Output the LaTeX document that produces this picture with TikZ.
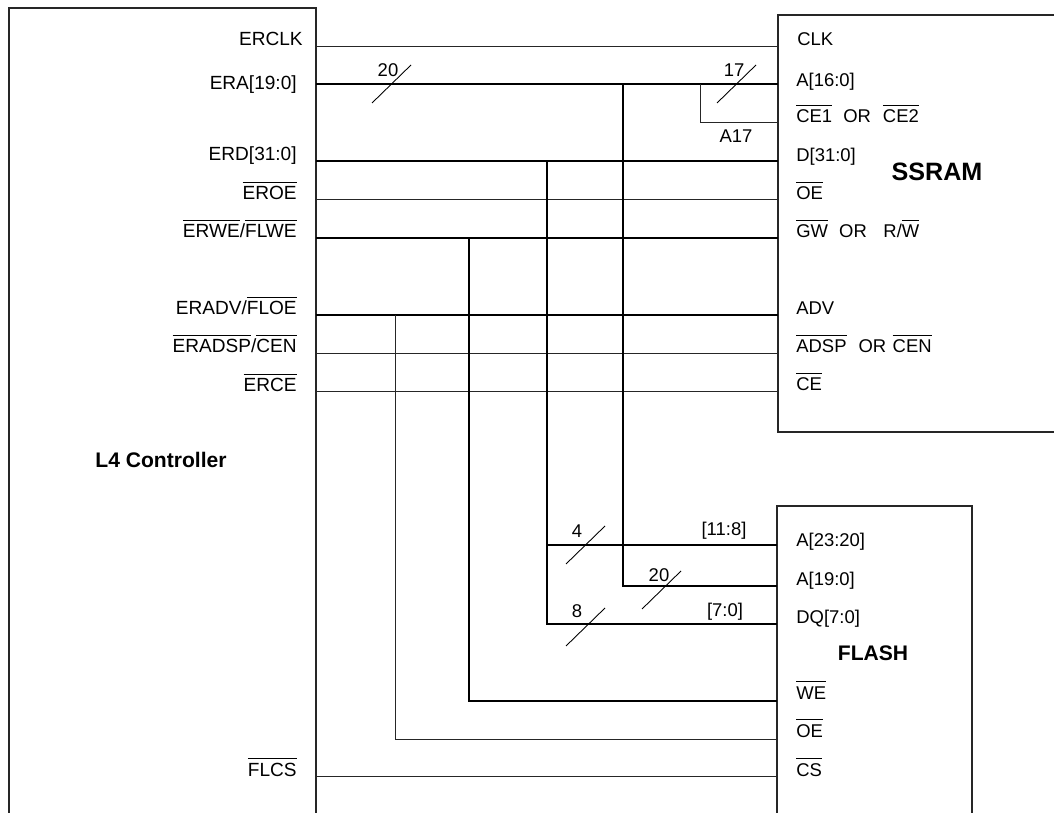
\documentclass[tikz,border=0pt]{standalone}
\usepackage{fontspec}
\setmainfont{Liberation Sans}
\newcommand{\nbar}[1]{$\overline{\hbox{\rule{0pt}{8.5pt}#1}}$}
\tikzset{
  boxline/.style={line width=1.1pt,draw=black!85},
  bus/.style={line width=1.15pt,black},
  sig/.style={line width=0.55pt,black!85},
  tick/.style={line width=0.5pt,black},
  lab/.style={font=\fontsize{10.5}{12}\selectfont,inner sep=0pt},
  leftlab/.style={lab,font=\fontsize{10.85}{12}\selectfont,anchor=base east},
  rightlab/.style={lab,anchor=base west}
}
\begin{document}
\begin{tikzpicture}[x=0.02cm,y=-0.02cm]
  \useasboundingbox (0,0) rectangle (1054,813);

  % L4 controller
  \draw[boxline] (9,813) -- (9,8) -- (316,8) -- (316,813);
  \node[font=\bfseries\fontsize{12}{14}\selectfont,inner sep=0pt] (ctrl) at (161,460) {L4 Controller};

  % SSRAM
  \draw[boxline] (1054,15) -- (778,15) -- (778,432) -- (1054,432);
  \node[font=\bfseries\fontsize{14.3}{16}\selectfont,inner sep=0pt] (ssram) at (937,172) {SSRAM};

  % FLASH
  \draw[boxline] (777,813) -- (777,506) -- (972,506) -- (972,813);
  \node[font=\bfseries\fontsize{12}{14}\selectfont,inner sep=0pt] (flash) at (873,653) {FLASH};

  % controller pins
  \foreach \pin/\y in {erclk/46,era/84,erd/161,eroe/199,erwe/238,eradv/315,eradsp/353,erce/391,flcs/776} {
    \coordinate (\pin) at (316,\y);
  }
  \node[leftlab] (lerclk) at (303,46) {ERCLK};
  \node[leftlab] (lera) at (297,90) {ERA[19:0]};
  \node[leftlab] (lerd) at (297,161) {ERD[31:0]};
  \node[leftlab] (leroe) at (297,200) {\nbar{EROE}};
  \node[leftlab] (lerwe) at (297,238) {\nbar{ERWE}/\nbar{FLWE}};
  \node[leftlab] (leradv) at (297,315) {ERADV/\nbar{FLOE}};
  \node[leftlab] (leradsp) at (297,353) {\nbar{ERADSP}/\nbar{CEN}};
  \node[leftlab] (lerce) at (297,392) {\nbar{ERCE}};
  \node[leftlab] (lflcs) at (297,776) {\nbar{FLCS}};

  % SSRAM pins
  \foreach \pin/\y in {sclk/46,sa/84,sce/122,sd/161,soe/199,sgw/238,sadv/315,sadsp/353,sbce/391} {
    \coordinate (\pin) at (778,\y);
  }
  \node[rightlab] (lsclk) at (797,46) {CLK};
  \node[rightlab] (lsa) at (796,87) {A[16:0]};
  \node[rightlab] (lsce) at (796,123) {\nbar{CE1}\hspace{0.6em}OR\hspace{0.65em}\nbar{CE2}};
  \node[rightlab] (lsd) at (796,162) {D[31:0]};
  \node[rightlab] (lsoe) at (796,200) {\nbar{OE}};
  \node[rightlab] (lsgw) at (796,238) {\nbar{GW}\hspace{0.6em}OR\hspace{0.9em}R/\nbar{W}};
  \node[rightlab] (lsadv) at (796,315) {ADV};
  \node[rightlab] (lsadsp) at (796,353) {\nbar{ADSP}\hspace{0.65em}OR\hspace{0.35em}\nbar{CEN}};
  \node[rightlab] (lsbce) at (796,391) {\nbar{CE}};

  % FLASH pins
  \foreach \pin/\y in {fahi/545,falo/586,fdq/624,fwe/701,foe/739,fcs/776} {
    \coordinate (\pin) at (777,\y);
  }
  \node[rightlab] (lfahi) at (796,546) {A[23:20]};
  \node[rightlab] (lfalo) at (796,585) {A[19:0]};
  \node[rightlab] (lfdq) at (796,623) {DQ[7:0]};
  \node[rightlab] (lfwe) at (796,699) {\nbar{WE}};
  \node[rightlab] (lfoe) at (796,737) {\nbar{OE}};
  \node[rightlab] (lfcs) at (796,776) {\nbar{CS}};

  % wires across
  \draw[sig] (erclk) -- (sclk);
  \draw[bus] (era) -- (sa);
  \draw[bus] (erd) -- (sd);
  \draw[sig] (eroe) -- (soe);
  \draw[bus] (erwe) -- (sgw);
  \draw[bus] (eradv) -- (sadv);
  \draw[sig] (eradsp) -- (sadsp);
  \draw[sig] (erce) -- (sbce);
  \draw[sig] (flcs) -- (fcs);

  % branches
  \coordinate (a17) at (700,84);
  \coordinate (atap) at (623,84);
  \coordinate (dtap) at (547,161);
  \coordinate (wetap) at (469,238);
  \coordinate (oetap) at (395,315);
  \draw[sig] (a17) |- (sce);
  \draw[bus] (atap) |- (falo);
  \draw[bus] (dtap) |- (fdq);
  \draw[bus] (wetap) |- (fwe);
  \draw[sig] (oetap) |- (foe);
  \draw[bus] (dtap |- fahi) -- (fahi);

  % bus widths
  \foreach \x/\y in {372/103,717/103,566/564,642/609,566/646} {
    \draw[tick] (\x,\y) -- ++(39,-38);
  }
  \node[lab] (w20) at (388,70) {20};
  \node[lab] (w17) at (734,70) {17};
  \node[lab] (a17lab) at (736,136) {A17};
  \node[lab] (w4) at (577,531) {4};
  \node[lab] (w20b) at (659,575) {20};
  \node[lab] (w8) at (577,611) {8};
  \node[lab] (hi) at (724,531) {[11:8]};
  \node[lab] (lo) at (725,612) {[7:0]};
\end{tikzpicture}
\end{document}
